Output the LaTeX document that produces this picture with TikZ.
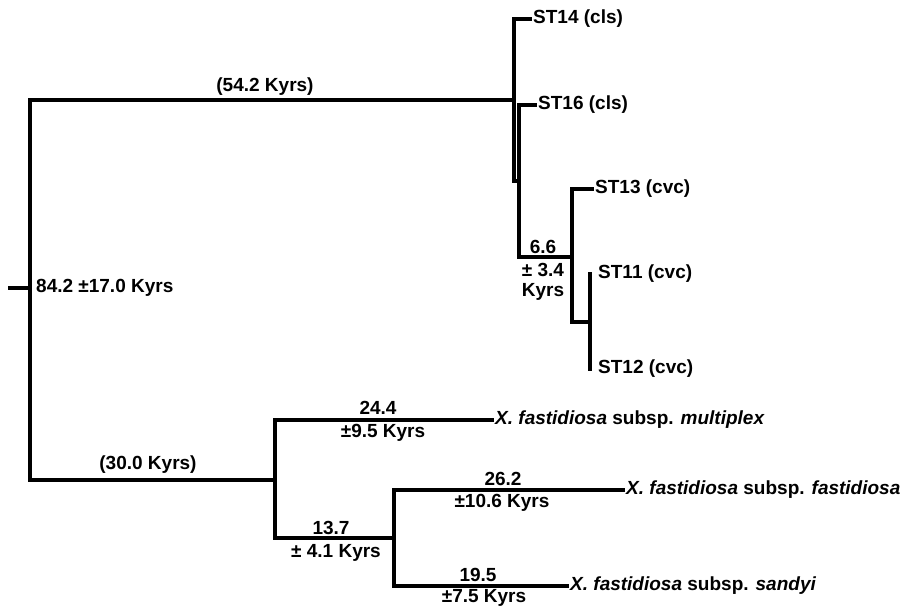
\documentclass[tikz,border=0pt]{standalone}
\usepackage{fontspec}
\setmainfont{Liberation Sans}
\usepackage{xcolor}
\usetikzlibrary{calc}
\tikzset{
  branch/.style={line width=3.2pt,line cap=rect},
  tiplabel/.style={anchor=west,inner xsep=3pt,inner ysep=0pt,font=\bfseries\fontsize{19}{21}\selectfont},
  agelabel/.style={inner sep=0pt,align=center,font=\bfseries\fontsize{19}{17}\selectfont},
}
\newcommand{\XfSub}[1]{\textit{X. fastidiosa} subsp. \textit{#1}}

\begin{document}
\begin{tikzpicture}[x=1pt,y=-1pt]
\useasboundingbox (0,0) rectangle (910,606);
% inner nodes of the tree
\coordinate (stub) at (10,288);
\coordinate (root) at (30,288);
\coordinate (cls) at (514,100);
\coordinate (clsb) at (519,181);
\coordinate (cvc) at (572,257);
\coordinate (cvcb) at (590,322);
\coordinate (sub) at (275,480);
\coordinate (subb) at (394,538);
% tips
\node[tiplabel] (st14) at (530,19) {ST14 (cls)};
\node[tiplabel] (st16) at (535,105) {ST16 (cls)};
\node[tiplabel] (st13) at (592,189) {ST13 (cvc)};
\node[tiplabel] (st11) at (595,274) {ST11 (cvc)};
\node[tiplabel] (st12) at (595,369) {ST12 (cvc)};
\node[tiplabel] (mult) at (492,420) {\XfSub{multiplex}};
\node[tiplabel] (fast) at (623,490) {\XfSub{fastidiosa}};
\node[tiplabel] (sand) at (567,586) {\XfSub{sandyi}};
% branches
\draw[branch] (stub) -- (root);
\draw[branch] (root) |- (cls);
\draw[branch] (root) |- (sub);
\draw[branch] (cls) |- (st14.west);
\draw[branch] (cls) |- (clsb);
\draw[branch] (clsb) |- (st16.west);
\draw[branch] (clsb) |- (cvc);
\draw[branch] (cvc) |- (st13.west);
\draw[branch] (cvc) |- (cvcb);
\draw[branch] (cvcb |- st11.west) -- (cvcb |- st12.west);
\draw[branch] (sub) |- (mult.west);
\draw[branch] (sub) |- (subb);
\draw[branch] (subb) |- (fast.west);
\draw[branch] (subb) |- (sand.west);
% ages
\node[agelabel] (a54) at (265,87) {(54.2 Kyrs)};
\node[agelabel] (a30) at (148,465) {(30.0 Kyrs)};
\node[agelabel,anchor=west] (a84) at (36,288) {84.2 ±17.0 Kyrs};
\node[agelabel] (a66) at (543,247) {6.6};
\node[agelabel] (a66e) at (543,270) {± 3.4};
\node[agelabel] (a66k) at (543,292) {Kyrs};
\node[agelabel] (a24) at (378,408) {24.4};
\node[agelabel] (a24e) at (383,433) {±9.5 Kyrs};
\node[agelabel] (a13) at (331,528) {13.7};
\node[agelabel] (a13e) at (336,553) {± 4.1 Kyrs};
\node[agelabel] (a26) at (503,479) {26.2};
\node[agelabel] (a26e) at (502,503) {±10.6 Kyrs};
\node[agelabel] (a19) at (478,575) {19.5};
\node[agelabel] (a19e) at (484,598) {±7.5 Kyrs};
\end{tikzpicture}
\end{document}
